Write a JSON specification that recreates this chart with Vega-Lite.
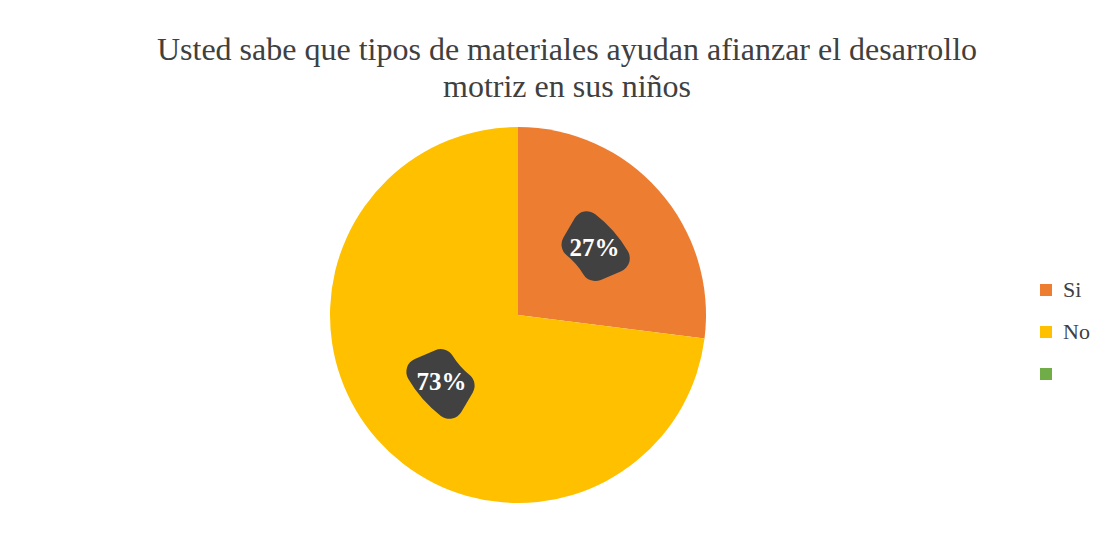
{
  "$schema": "https://vega.github.io/schema/vega-lite/v6.json",
  "autosize": {"type": "none"},
  "width": 1016,
  "height": 410,
  "padding": {"left": 10, "top": 110, "right": 85, "bottom": 26},
  "background": "white",
  "title": {
    "text": ["Usted sabe que tipos de materiales ayudan afianzar el desarrollo", "motriz en sus niños"],
    "font": "Liberation Serif",
    "fontSize": 32,
    "fontWeight": "normal",
    "color": "#404040",
    "lineHeight": 37,
    "anchor": "middle",
    "frame": "group",
    "dx": 49,
    "offset": 6
  },
  "data": {
    "values": [
      {"respuesta": "Si", "porcentaje": 0.27},
      {"respuesta": "No", "porcentaje": 0.73}
    ]
  },
  "encoding": {
    "theta": {"field": "porcentaje", "type": "quantitative", "stack": true},
    "order": {"field": "respuesta", "sort": "descending"}
  },
  "resolve": {"scale": {"theta": "independent"}},
  "layer": [
    {
      "mark": {"type": "arc", "outerRadius": 188, "stroke": null},
      "encoding": {
        "color": {
          "field": "respuesta",
          "type": "nominal",
          "scale": {"domain": ["Si", "No", ""], "range": ["#ED7D31", "#FFC000", "#70AD47"]},
          "legend": {
            "title": null,
            "orient": "none",
            "legendX": 1025,
            "legendY": 169,
            "padding": 0,
            "symbolType": "square",
            "symbolSize": 144,
            "symbolStrokeWidth": 0,
            "labelFont": "Liberation Serif",
            "labelFontSize": 22,
            "labelColor": "#404040",
            "labelOffset": 6,
            "rowPadding": 20
          }
        }
      }
    },
    {
      "transform": [{"filter": "datum.respuesta == 'Si'"}],
      "mark": {"type": "arc", "outerRadius": 127, "innerRadius": 77, "cornerRadius": 14, "fill": "#414141", "stroke": null},
      "encoding": {
        "theta": {"field": "porcentaje", "type": "quantitative", "stack": true, "scale": {"domain": [0, 0.27], "range": [0.53, 1.17]}}
      }
    },
    {
      "transform": [{"filter": "datum.respuesta == 'No'"}],
      "mark": {"type": "arc", "outerRadius": 127, "innerRadius": 77, "cornerRadius": 14, "fill": "#414141", "stroke": null},
      "encoding": {
        "theta": {"field": "porcentaje", "type": "quantitative", "stack": true, "scale": {"domain": [0, 0.73], "range": [3.67, 4.31]}}
      }
    },
    {
      "mark": {
        "type": "text",
        "radius": 102,
        "font": "Liberation Serif",
        "fontSize": 25,
        "fontWeight": "bold",
        "fill": "white",
        "baseline": "middle",
        "align": "center"
      },
      "encoding": {
        "text": {"field": "porcentaje", "type": "quantitative", "format": ".0%"}
      }
    }
  ]
}
